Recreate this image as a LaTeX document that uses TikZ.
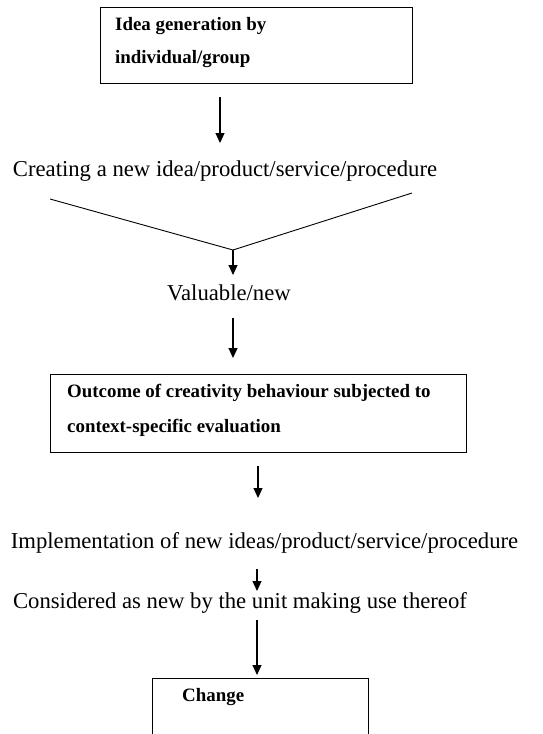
\documentclass[tikz,border=0pt]{standalone}
\usepackage{fontspec}
\setmainfont{Liberation Serif}
\usetikzlibrary{arrows.meta}
\begin{document}
\begin{tikzpicture}[x=1pt,y=-1pt,
  box/.style={draw, line width=1.3pt, inner sep=0pt, anchor=north west},
  plain/.style={font=\fontsize{22.7}{26}\selectfont, inner sep=0pt},
  boldtxt/.style={font=\fontsize{18.9}{22}\selectfont\bfseries, inner sep=0pt, anchor=west},
  arr/.style={-{Triangle[length=10pt,width=9pt]}, line width=1.1pt},
  ln/.style={line width=0.9pt}]
\useasboundingbox (0,0) rectangle (542,734);
\clip (0,0) rectangle (542,734);
\fill[white] (0,0) rectangle (542,734);
% box 1
\node[box, minimum width=312pt, minimum height=76pt] (b1) at (100,7) {};
\node[boldtxt] (t1a) at (115,26) {Idea generation by};
\node[boldtxt] (t1b) at (115,59) {individual/group};
\coordinate (a1s) at (220,97);
\coordinate (a1e) at (220,143);
\draw[arr] (a1s) -- (a1e);
\node[plain] (c1) at (225,171) {Creating a new idea/product/service/procedure};
\coordinate (vl) at (50,199);
\coordinate (vr) at (412,193);
\coordinate (vm) at (233,250);
\draw[ln] (vl) -- (vm) -- (vr);
\coordinate (a2e) at (233,275);
\draw[arr] (vm) -- (a2e);
\node[plain] (val) at (229,293) {Valuable/new};
\coordinate (a3s) at (233,318);
\coordinate (a3e) at (233,358);
\draw[arr] (a3s) -- (a3e);
% box 2
\node[box, minimum width=416pt, minimum height=78pt] (b2) at (50,374) {};
\node[boldtxt] (t2a) at (67,393) {Outcome of creativity behaviour subjected to};
\node[boldtxt] (t2b) at (67,428) {context-specific evaluation};
\coordinate (a4s) at (258,466);
\coordinate (a4e) at (258,498);
\draw[arr] (a4s) -- (a4e);
\node[plain] (imp) at (264.5,543) {Implementation of new ideas/product/service/procedure};
\coordinate (a5s) at (257,569);
\coordinate (a5e) at (257,591);
\draw[arr] (a5s) -- (a5e);
\node[plain] (con) at (240,603) {Considered as new by the unit making use thereof};
\coordinate (a6s) at (257,620);
\coordinate (a6e) at (257,675);
\draw[arr] (a6s) -- (a6e);
% box 3
\node[box, minimum width=216pt, minimum height=100pt] (b3) at (152,678) {};
\node[boldtxt] (t3) at (182,697) {Change};
\end{tikzpicture}
\end{document}
